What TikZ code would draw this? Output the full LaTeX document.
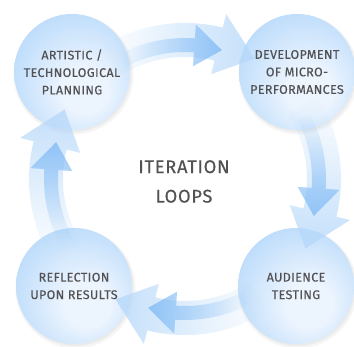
\documentclass[tikz,border=0pt]{standalone}
\usepackage{fontspec}
\setmainfont{Fira Sans}
\newfontfamily\labelfont[LetterSpace=3, FakeBold=0.4]{Fira Sans}
\newfontfamily\titlefont[LetterSpace=4, FakeBold=0.3]{Fira Sans}
\usetikzlibrary{fadings}

\definecolor{ballC}{RGB}{236,244,254}
\definecolor{ballM}{RGB}{190,221,251}
\definecolor{ballE}{RGB}{140,194,247}
\definecolor{arrDark}{RGB}{138,192,246}
\definecolor{arrLight}{RGB}{182,216,250}
\definecolor{txt}{RGB}{82,82,84}

% glassy sphere: bright core offset towards the lower right
\pgfdeclareradialshading{glassball}{\pgfpoint{7bp}{-10bp}}{%
  color(0bp)=(ballC); color(10bp)=(ballC); color(30bp)=(ballM);
  color(44bp)=(ballE); color(50bp)=(ballE)}

% arrows become transparent towards their tail
\tikzfading[name=tailfade, left color=transparent!100, right color=transparent!0]

% curved block arrow around the current origin:
% #1 style, #2 tail angle, #3 angle of head base, #4 tip angle,
% #5 inner radius, #6 outer radius, #7 head overhang
\newcommand{\looparrow}[7]{%
  \fill[#1] (#2:#6) arc[start angle=#2, end angle=#3, radius=#6]
    -- (#3:{#6+#7}) -- (#4:{(#5+#6)/2}) -- (#3:{#5-#7})
    -- (#3:#5) arc[start angle=#3, end angle=#2, radius=#5] -- cycle;}

\tikzset{
  ball/.style={circle, minimum size=116pt, inner sep=0pt, align=center,
    shading=glassball, text=txt,
    font=\labelfont\fontsize{12.5}{17.5}\selectfont},
  lightarrow/.style={fill=arrLight, fill opacity=0.8, path fading=tailfade},
  darkarrow/.style={fill=arrDark, fill opacity=0.9, path fading=tailfade},
}

\begin{document}
\begin{tikzpicture}[x=1pt, y=1pt]
\useasboundingbox (0,0) rectangle (354,347);
\fill[white] (0,0) rectangle (354,347);

\coordinate (hub) at (185,168);

% soft shadows under the spheres
\foreach \p in {(72,275),(297,275),(74,61),(296,61)} {
  \fill[black, opacity=0.04] \p ++(1.5,-2.5) circle[radius=60];
  \fill[black, opacity=0.04] \p ++(1,-1.5) circle[radius=58.5];
}

\node[ball] (plan)  at (72,275) {ARTISTIC /\\TECHNOLOGICAL\\PLANNING};
\node[ball] (dev)   at (297,275) {DEVELOPMENT\\OF MICRO-\\PERFORMANCES};
\node[ball] (refl)  at (74,61) {REFLECTION\\UPON RESULTS};
\node[ball] (test)  at (296,61) {AUDIENCE\\TESTING};

\node[text=txt, align=center, font=\titlefont\fontsize{18.3}{29.5}\selectfont]
  (title) at (184,165.5) {ITERATION\\LOOPS};

% the loop of arrows, clockwise: top, right, bottom, left
\begin{scope}[shift={(hub)}]
  \foreach \o/\fa in {0/0, -90/-90, -180/180, -270/90} {
    \looparrow{lightarrow, fading angle=\fa}
      {122+\o}{76+\o}{60+\o}{122}{156}{14}
    \looparrow{darkarrow, fading angle=\fa}
      {118+\o}{86+\o}{74+\o}{127}{141}{14}
  }
\end{scope}
\end{tikzpicture}
\end{document}
